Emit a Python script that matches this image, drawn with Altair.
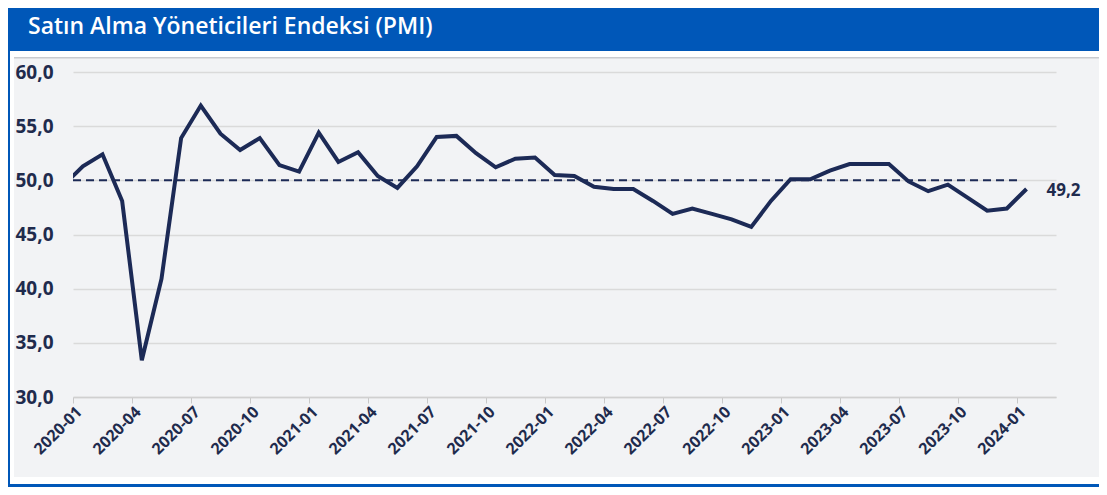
import altair as alt
import pandas as pd

# ---- data -------------------------------------------------------------
months = [str(p) for p in pd.period_range("2019-12", "2024-01", freq="M")]
pmi = [49.5,
       51.3, 52.4, 48.1, 33.4, 40.9, 53.9, 56.9, 54.3, 52.8, 53.9, 51.4, 50.8,
       54.4, 51.7, 52.6, 50.4, 49.3, 51.3, 54.0, 54.1, 52.5, 51.2, 52.0, 52.1,
       50.5, 50.4, 49.4, 49.2, 49.2, 48.1, 46.9, 47.4, 46.9, 46.4, 45.7, 48.1,
       50.1, 50.1, 50.9, 51.5, 51.5, 51.5, 49.9, 49.0, 49.6, 48.4, 47.2, 47.4,
       49.2]
tick_labels = ["2020-01", "2020-04", "2020-07", "2020-10",
               "2021-01", "2021-04", "2021-07", "2021-10",
               "2022-01", "2022-04", "2022-07", "2022-10",
               "2023-01", "2023-04", "2023-07", "2023-10", "2024-01"]
y_ticks = [30, 35, 40, 45, 50, 55, 60]
threshold = 50
title_text = "Satın Alma Yöneticileri Endeksi (PMI)"
last_label = "49,2"

idx = list(range(-1, len(months) - 1))
df = pd.DataFrame({"idx": idx, "month": months, "pmi": pmi})
last = df.tail(1).assign(label=last_label)
ref = pd.DataFrame({"x": [-0.5], "x2": [47.7], "y": [threshold]})

NAVY = "#1c2a56"
TXT = "#1f2b4d"
BLUE = "#0057b8"
BG = "#f2f3f5"

W, H = 983, 325
x_domain = [-0.5, 49.5]
tick_vals = [-0.5 + 3 * k for k in range(len(tick_labels))]
lab_arr = "[" + ",".join("'%s'" % t for t in tick_labels) + "]"

xscale = alt.Scale(domain=x_domain, nice=False, zero=False)
yscale = alt.Scale(domain=[30, 60], nice=False, zero=False)

one = pd.DataFrame({"a": [0]})


def deco(x, x2, y, y2, color):
    return alt.Chart(one).mark_rect(color=color).encode(
        x=alt.value(x), x2=alt.value(x2), y=alt.value(y), y2=alt.value(y2))


decos = [
    deco(-65, 1026, -64, -21, BLUE),          # title bar
    deco(-65, 1026, -21, -15, "white"),        # white strip
    deco(-59, 1026, -15, -13.5, "#c9cbcf"),    # thin grey line
    deco(-63, -59, -21, 412, "white"),         # left white strip
    deco(-65, -63, -64, 415, BLUE),            # left blue line
    deco(-63, 1026, 405, 412, "white"),        # bottom white strip
    deco(-65, 1026, 412, 415, BLUE),           # bottom blue line
]

title = alt.Chart(one).mark_text(
    text=title_text, color="white", fontSize=23, font="Open Sans",
    fontWeight=600, align="left", baseline="middle").encode(
    x=alt.value(-45), y=alt.value(-45))

base_x = alt.X("idx:Q", scale=xscale, axis=alt.Axis(
    values=tick_vals, labelExpr=lab_arr + "[round((datum.value + 0.5) / 3)]",
    labelAngle=-45, labelAlign="right", labelBaseline="middle",
    labelOffset=6, labelPadding=6, tickSize=6, tickColor="#c8c8c8",
    domainColor="#d0d0d0", domainWidth=1.5, grid=False,
    labelFont="Open Sans", labelFontSize=16, labelFontWeight="bold",
    labelColor=TXT, title=None, labelOverlap=False))
base_y = alt.Y("pmi:Q", scale=yscale, axis=alt.Axis(
    values=y_ticks, labelExpr="replace(format(datum.value, '.1f'), '.', ',')",
    grid=True, gridColor="#dadada", gridWidth=1.5, ticks=False, domain=False,
    labelFont="Open Sans", labelFontSize=19, labelFontWeight="bold",
    labelColor=TXT, labelPadding=20, title=None))

line = alt.Chart(df).mark_line(color=NAVY, strokeWidth=4, clip=True,
                               strokeJoin="miter").encode(x=base_x, y=base_y)

rule = alt.Chart(ref).mark_rule(color=NAVY, strokeWidth=2,
                                strokeDash=[8, 5]).encode(
    x=alt.X("x:Q", scale=xscale), x2="x2", y=alt.Y("y:Q", scale=yscale))

end_text = alt.Chart(last).mark_text(
    align="left", baseline="middle", dx=20, dy=2, fontSize=17,
    fontWeight="bold", font="Open Sans", color=TXT).encode(
    x=alt.X("idx:Q", scale=xscale), y=alt.Y("pmi:Q", scale=yscale),
    text="label:N")

chart = alt.layer(*decos, title, rule, line, end_text).properties(
    width=W, height=H,
    autosize=alt.AutoSizeParams(type="none"),
    padding={"left": 65, "top": 64, "right": 43, "bottom": 90},
    background=BG,
).configure_view(stroke=None)

chart.save("out.html", embed_options={"renderer": "svg", "actions": False})
